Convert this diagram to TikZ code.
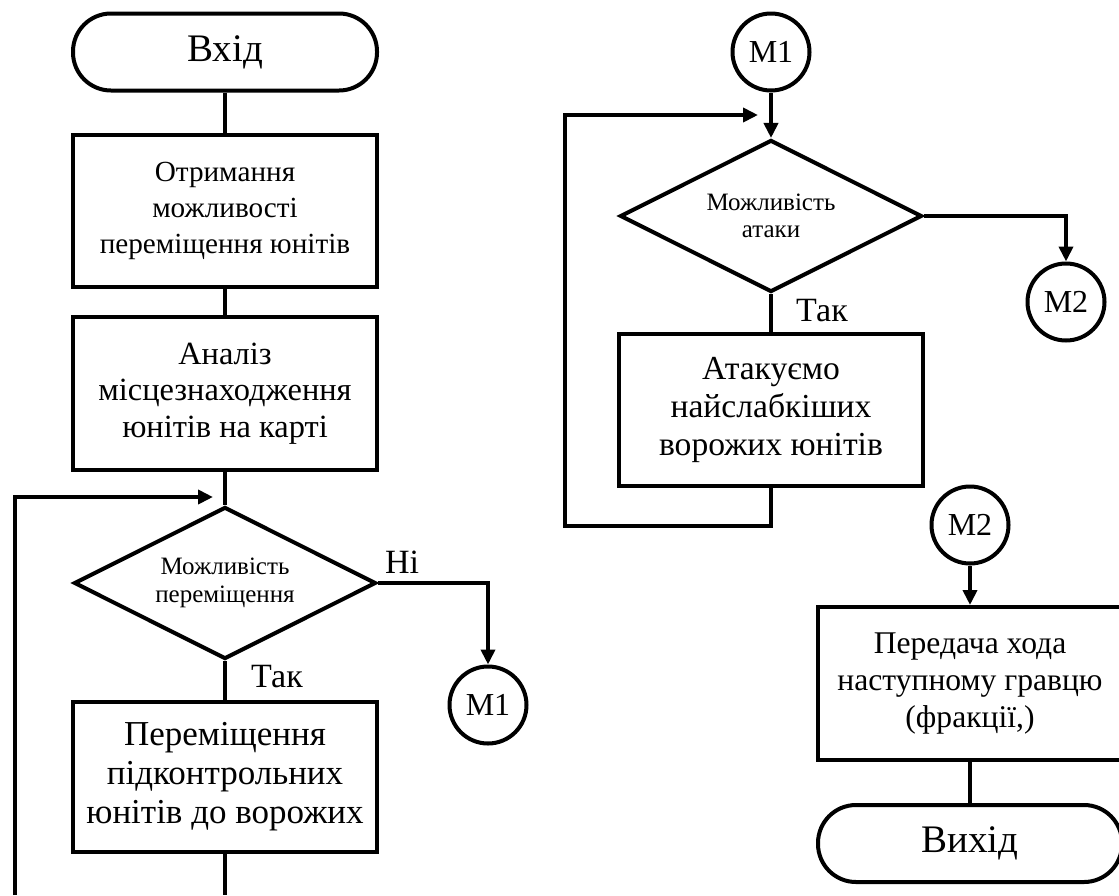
\documentclass[tikz,border=0pt]{standalone}
\usepackage{fontspec}
\setmainfont{Liberation Serif}
\usepackage{tikz}
\usetikzlibrary{arrows.meta,positioning,shapes,calc}
\definecolor{ink}{HTML}{000000}
\tikzset{
  card/.style={draw=ink,line width=2pt,align=center,inner sep=2pt,
               minimum width=152pt,minimum height=76pt},
  termcard/.style={draw=ink,line width=2pt,rounded corners=19pt,align=center,
                   minimum width=152pt,minimum height=38.5pt,
                   font=\fontsize{19.5}{22}\selectfont},
  decision/.style={draw=ink,line width=2pt,shape=diamond,aspect=2,
                   align=center,inner sep=0pt,minimum width=151pt,
                   minimum height=76pt,font=\fontsize{12.5}{13.8}\selectfont},
  linkcard/.style={draw=ink,line width=2pt,shape=circle,inner sep=0pt,
                   minimum size=38.5pt,font=\fontsize{16}{18}\selectfont},
  flowline/.style={draw=ink,line width=2pt},
  flowarr/.style={-{Triangle[length=7.5pt,width=7pt]},line width=2pt,
                  draw=ink},
  answer/.style={inner sep=0pt,font=\fontsize{17}{19}\selectfont}
}
\begin{document}
\begin{tikzpicture}[x=0.5pt,y=-0.5pt]
  \useasboundingbox (0,0) rectangle (1119,895);
  \node[termcard] (start) at (225,52) {Вхід};
  \node[card,font=\fontsize{14.6}{17.8}\selectfont] (recv) at (225,211)
    {Отримання\\можливості\\переміщення юнітів};
  \node[card,minimum height=76.5pt,font=\fontsize{16.2}{18.3}\selectfont]
    (scan) at (225,393.5) {Аналіз\\місцезнаходження\\юнітів на карті};
  \node[decision] (canmove) at (225,583) {Можливість\\переміщення};
  \node[card,minimum height=75pt,font=\fontsize{17.5}{19.5}\selectfont]
    (move) at (225,777) {Переміщення\\підконтрольних\\юнітів до ворожих};
  \node[linkcard] (mA) at (488,705) {M1};
  \node[answer] (no) at (402,562) {Ні};
  \node[answer] (yesA) at (277,677) {Так};
  \coordinate (loopA) at (15,895);
  \coordinate (joinA) at (225,497);
  \coordinate (downA) at (225,895);

  \node[linkcard] (mB) at (771,52) {M1};
  \node[decision] (canatk) at (771,216) {Можливість\\атаки};
  \node[card,font=\fontsize{16.8}{18.9}\selectfont] (atk) at (771,410)
    {Атакуємо\\найслабкіших\\ворожих юнітів};
  \node[answer] (yesB) at (822,311) {Так};
  \node[linkcard] (mC) at (1066,302) {M2};
  \node[linkcard] (mD) at (970,525) {M2};
  \node[card,minimum height=76.5pt,font=\fontsize{15.8}{18.4}\selectfont]
    (pass) at (970,683.5) {Передача хода\\наступному гравцю\\(фракції,)};
  \node[termcard] (finish) at (970,843.5) {Вихід};
  \coordinate (loopB) at (771,526);
  \coordinate (backB) at (565,115);
  \coordinate (joinB) at (771,115);

  \draw[flowline] (start) -- (recv);
  \draw[flowline] (recv) -- (scan);
  \draw[flowline] (scan) -- (canmove);
  \draw[flowline] (canmove) -- (move);
  \draw[flowarr] (canmove.east) -| (mA.north);
  \draw[flowline] (move) -- (downA);
  \draw[flowarr] (loopA) |- ([xshift=-6pt]joinA);

  \draw[flowarr] (mB) -- (canatk);
  \draw[flowarr] (canatk.east) -| (mC.north);
  \draw[flowline] (canatk) -- (atk);
  \draw[flowarr] (atk.south) -- (loopB) -| (backB) -- ([xshift=-6.5pt]joinB);
  \draw[flowarr] (mD) -- (pass);
  \draw[flowline] (pass) -- (finish);
\end{tikzpicture}
\end{document}
